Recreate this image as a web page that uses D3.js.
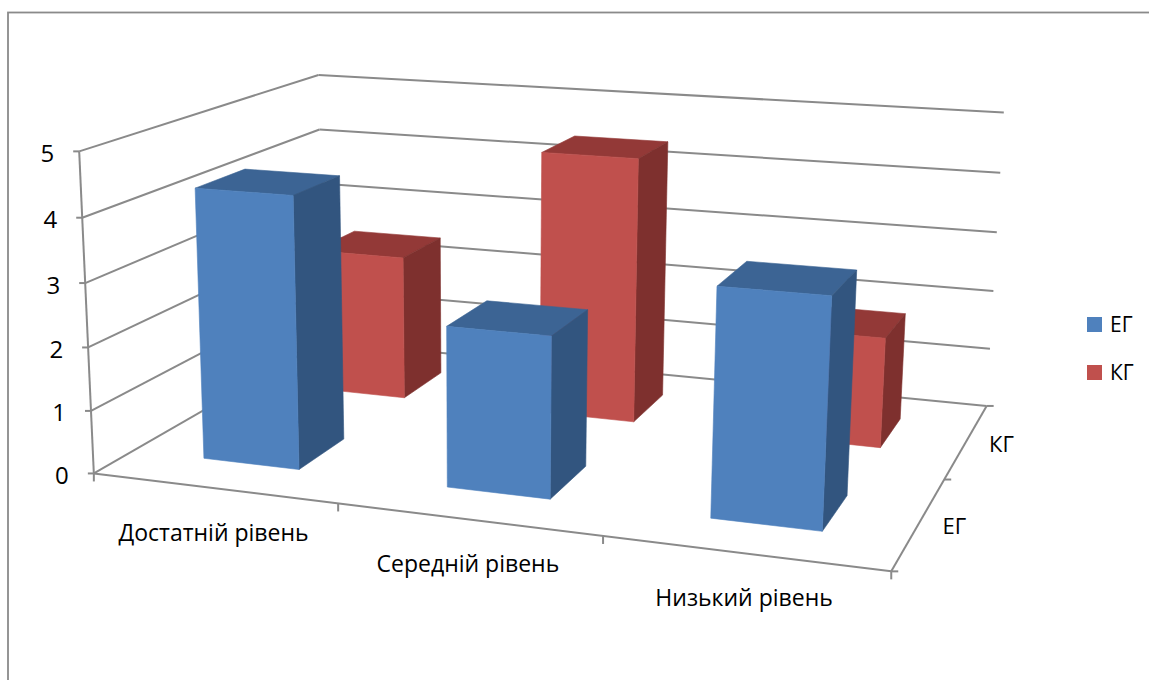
<!DOCTYPE html>
<html>
<head>
<meta charset="utf-8">
<script src="https://cdn.jsdelivr.net/npm/d3@7"></script>
<style>
  html, body { margin: 0; padding: 0; background: #fff; overflow: hidden; }
  text { font-family: "Open Sans", sans-serif; fill: #000; }
</style>
</head>
<body>
<script>
var categories = ['Достатній рівень', 'Середній рівень', 'Низький рівень'];
var series = ['ЕГ', 'КГ'];
var eg_values = [4.3, 2.5, 3.45];
var kg_values = [2.45, 4.4, 1.8];
var value_ticks = [0, 1, 2, 3, 4, 5];

var width = 1149, height = 680;
var grid_color = '#8a8a8a';
var colors = {
  'ЕГ': { front: '#4f81bd', top: '#3c6494', side: '#32557f' },
  'КГ': { front: '#c0504d', top: '#933937', side: '#7e302e' }
};

// cube position -> screen position
var anchors = [
  [0, 0, 0, 96, 472], [1, 0, 0, 891, 572], [1, 1, 0, 987, 405], [0, 1, 0, 321, 343],
  [0, 0, 1, 77, 152], [0, 1, 1, 321, 74], [1, 1, 1, 1003, 113],
  [1/3, 0, 0, 338, 503], [2/3, 0, 0, 603, 537], [1, 0.5, 0, 945, 479]
];

function solve(A, b) {
  var n = b.length;
  for (var i = 0; i < n; i++) {
    var p = i;
    for (var r = i + 1; r < n; r++) if (Math.abs(A[r][i]) > Math.abs(A[p][i])) p = r;
    var t = A[i]; A[i] = A[p]; A[p] = t;
    var s = b[i]; b[i] = b[p]; b[p] = s;
    for (var r = i + 1; r < n; r++) {
      var f = A[r][i] / A[i][i];
      for (var c = i; c < n; c++) A[r][c] -= f * A[i][c];
      b[r] -= f * b[i];
    }
  }
  var x = new Array(n);
  for (var i = n - 1; i >= 0; i--) {
    var acc = b[i];
    for (var c = i + 1; c < n; c++) acc -= A[i][c] * x[c];
    x[i] = acc / A[i][i];
  }
  return x;
}

// least squares camera matrix
function fitCamera() {
  var rows = [], rhs = [];
  anchors.forEach(function(a) {
    var X = a[0], Y = a[1], Z = a[2], x = a[3], y = a[4];
    rows.push([X, Y, Z, 1, 0, 0, 0, 0, -x * X, -x * Y, -x * Z]); rhs.push(x);
    rows.push([0, 0, 0, 0, X, Y, Z, 1, -y * X, -y * Y, -y * Z]); rhs.push(y);
  });
  var n = 11;
  var A = d3.range(n).map(function(i) {
    return d3.range(n).map(function(j) { return d3.sum(rows, function(r) { return r[i] * r[j]; }); });
  });
  var b = d3.range(n).map(function(i) {
    return d3.sum(rows, function(r, k) { return r[i] * rhs[k]; });
  });
  return solve(A, b);
}
var cam = fitCamera();

function project(u, v, w) {
  var d = cam[8] * u + cam[9] * v + cam[10] * w + 1;
  return [(cam[0] * u + cam[1] * v + cam[2] * w + cam[3]) / d,
          (cam[4] * u + cam[5] * v + cam[6] * w + cam[7]) / d];
}

var uScale = d3.scaleBand().domain(categories).range([0, 1]).paddingInner(0.6).paddingOuter(0.3);
var vScale = d3.scaleBand().domain(series).range([0, 1]).paddingInner(0.6).paddingOuter(0.3);
var wScale = d3.scaleLinear().domain([0, 5]).range([0, 1]);

var svg = d3.select('body').append('svg')
  .attr('width', width)
  .attr('height', height)
  .style('display', 'block');

// chart frame, runs off the right and bottom
svg.append('rect')
  .attr('x', 8).attr('y', 12.5)
  .attr('width', width + 20).attr('height', height + 20)
  .attr('fill', '#fff').attr('stroke', '#8a8a8a').attr('stroke-width', 1.8);

function gridLine(a, b) {
  svg.append('line')
    .attr('x1', a[0]).attr('y1', a[1])
    .attr('x2', b[0]).attr('y2', b[1])
    .attr('stroke', grid_color).attr('stroke-width', 2);
}

// walls
value_ticks.forEach(function(t) {
  var w = wScale(t);
  var fl = project(0, 0, w), bl = project(0, 1, w), br = project(1, 1, w);
  gridLine(fl, bl);
  gridLine(bl, br);
  gridLine([fl[0] - 6, fl[1]], fl);
  svg.append('text')
    .attr('x', fl[0] - 25).attr('y', fl[1] + 10.5)
    .attr('text-anchor', 'end')
    .style('font-size', '24px')
    .text(t);
});
gridLine(project(0, 0, 0), project(0, 0, 1));

// floor edges and ticks
gridLine(project(0, 0, 0), project(1, 0, 0));
gridLine(project(1, 0, 0), project(1, 1, 0));
d3.range(0, 4).forEach(function(i) {
  var p = project(i / 3, 0, 0);
  gridLine(p, [p[0], p[1] + 8]);
});
d3.range(0, 3).forEach(function(i) {
  var p = project(1, i / 2, 0);
  gridLine(p, [p[0] + 7, p[1]]);
});

function face(pts, fill) {
  svg.append('path')
    .attr('d', d3.line()(pts) + 'Z')
    .attr('fill', fill)
    .attr('stroke', fill)
    .attr('stroke-width', 0.6);
}

function bar(cat, ser, val) {
  var u0 = uScale(cat), u1 = u0 + uScale.bandwidth();
  var v0 = vScale(ser), v1 = v0 + vScale.bandwidth();
  var w = wScale(val);
  var c = colors[ser];
  face([project(u0, v0, w), project(u1, v0, w), project(u1, v1, w), project(u0, v1, w)], c.top);
  face([project(u1, v0, 0), project(u1, v1, 0), project(u1, v1, w), project(u1, v0, w)], c.side);
  face([project(u0, v0, 0), project(u1, v0, 0), project(u1, v0, w), project(u0, v0, w)], c.front);
}

// back row first so the front row covers it
categories.forEach(function(cat, i) { bar(cat, 'КГ', kg_values[i]); });
categories.forEach(function(cat, i) { bar(cat, 'ЕГ', eg_values[i]); });

// category labels
categories.forEach(function(cat) {
  var p = project(uScale(cat) + uScale.bandwidth() / 2, 0, 0);
  svg.append('text')
    .attr('x', p[0]).attr('y', p[1] + 53)
    .attr('text-anchor', 'middle')
    .style('font-size', '23px')
    .text(cat);
});

// series labels beside the floor edge
series.forEach(function(s) {
  var p = project(1, vScale(s) + vScale.bandwidth() / 2, 0);
  svg.append('text')
    .attr('x', p[0] + 35).attr('y', p[1] + 11)
    .attr('text-anchor', 'middle')
    .style('font-size', '22px')
    .text(s);
});

// legend
var legendY = d3.scalePoint().domain(series).range([317, 365]);
series.forEach(function(s) {
  svg.append('rect')
    .attr('x', 1087).attr('y', legendY(s))
    .attr('width', 15).attr('height', 15)
    .attr('fill', colors[s].front);
  svg.append('text')
    .attr('x', 1110).attr('y', legendY(s) + 15)
    .style('font-size', '21px')
    .text(s);
});
</script>
</body>
</html>
